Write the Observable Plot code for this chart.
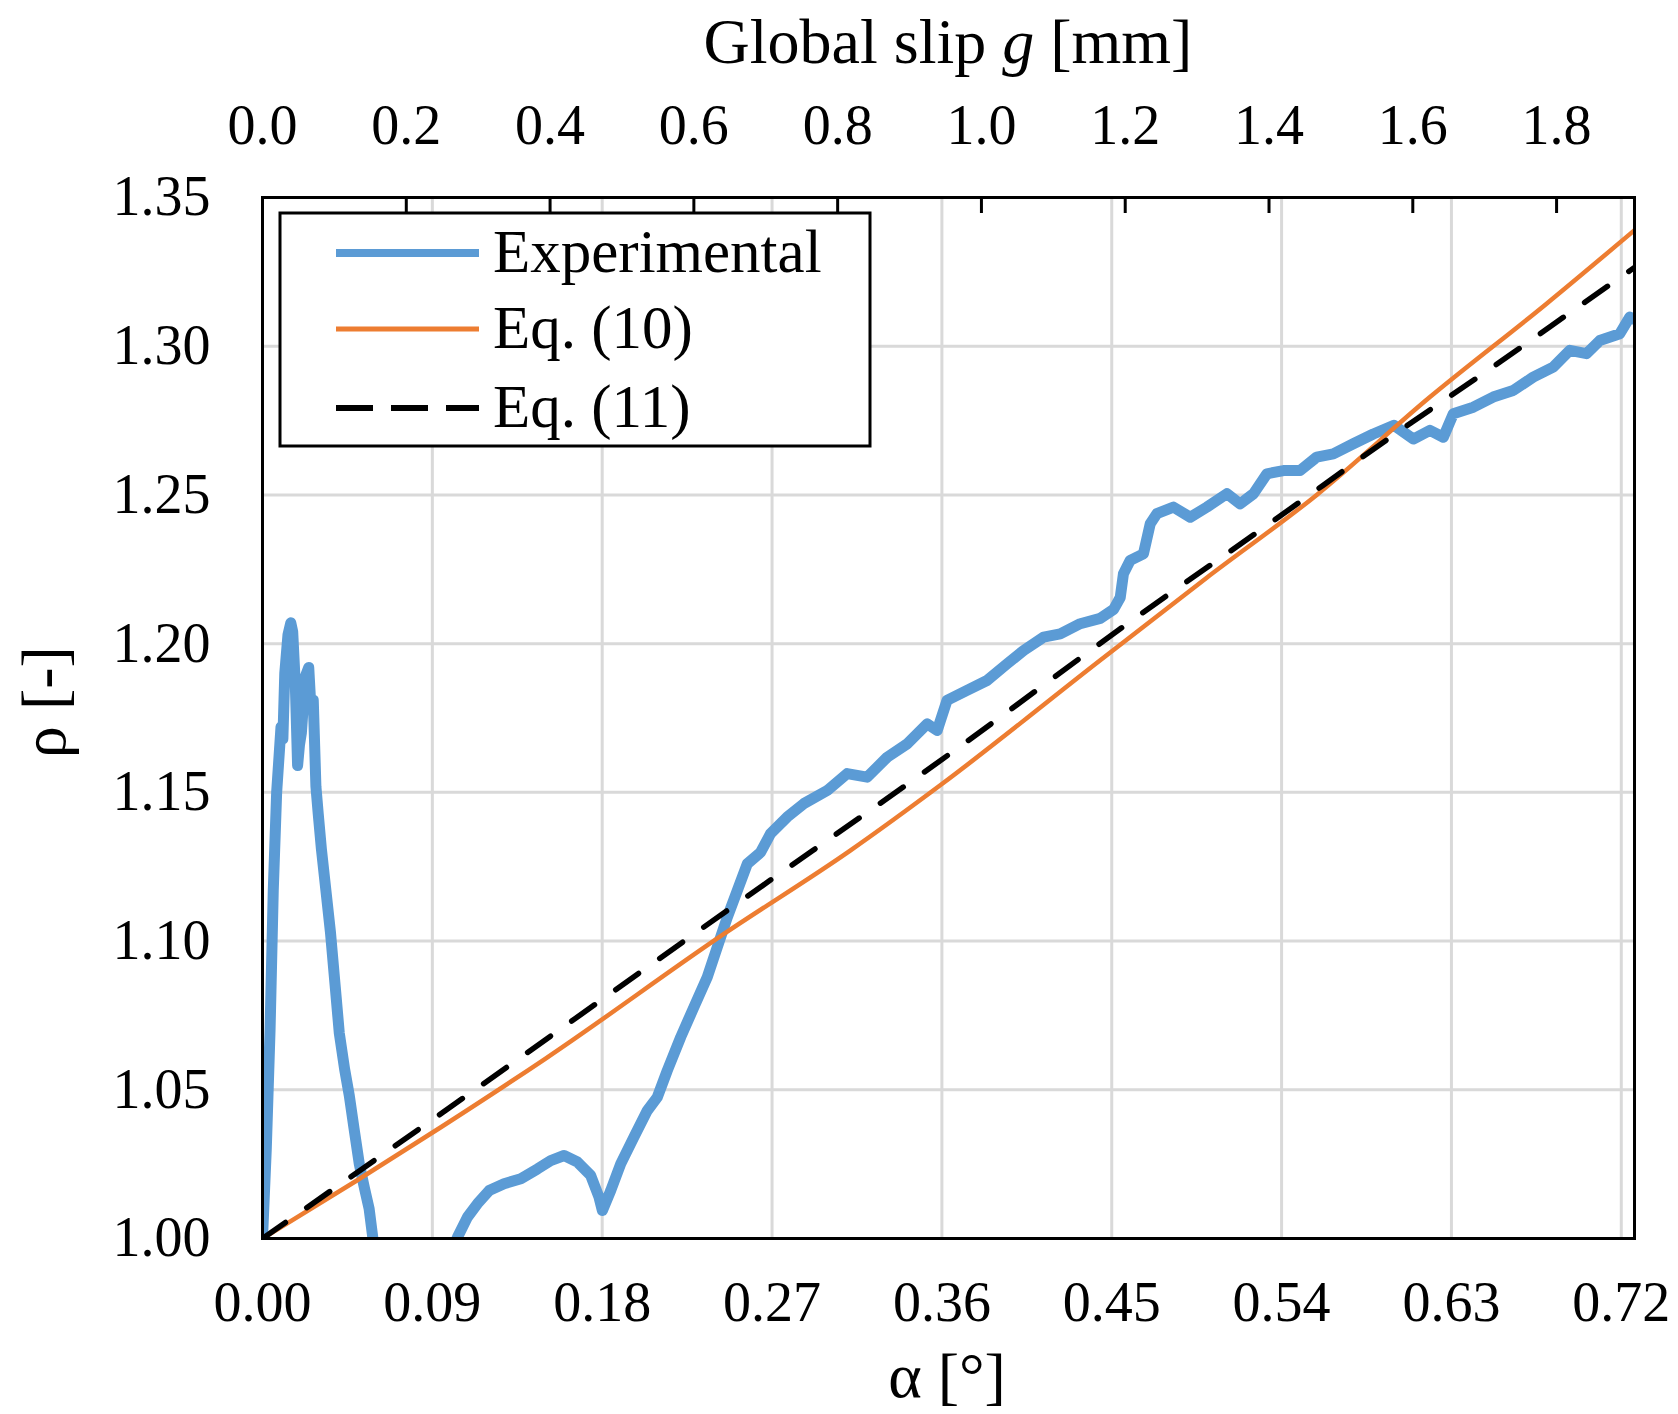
<!DOCTYPE html>
<html><head><meta charset="utf-8">
<script src="https://cdn.jsdelivr.net/npm/d3@7"></script>
<script src="https://cdn.jsdelivr.net/npm/@observablehq/plot@0.6"></script>
<style>
html,body{margin:0;padding:0;background:#fff;}
#chart svg{display:block;}
</style>
</head><body><div id="chart"></div>
<script>
// ---- tick values ----
const alphaTicks = [0.00, 0.09, 0.18, 0.27, 0.36, 0.45, 0.54, 0.63, 0.72];
const rhoTicks = [1.00, 1.05, 1.10, 1.15, 1.20, 1.25, 1.30, 1.35];
const slipTicks = [0.0, 0.2, 0.4, 0.6, 0.8, 1.0, 1.2, 1.4, 1.6, 1.8];
const mmPerDeg = 2.625; // global slip g [mm] per degree of alpha (top axis)

// ---- series: [alpha (deg), rho (-)] ----
const experimentalPart1 = [
  [0.0000,1.000],[0.0020,1.030],[0.0040,1.070],[0.0057,1.117],[0.0075,1.150],
  [0.0098,1.172],[0.0108,1.168],[0.0118,1.190],[0.0135,1.203],[0.0150,1.207],
  [0.0160,1.204],[0.0174,1.186],[0.0186,1.159],[0.0196,1.166],[0.0206,1.170],
  [0.0227,1.189],[0.0245,1.192],[0.0257,1.178],[0.0269,1.181],[0.0283,1.152],
  [0.0295,1.143],[0.0312,1.131],[0.0336,1.117],[0.0360,1.103],[0.0385,1.085],
  [0.0407,1.069],[0.0435,1.057],[0.0460,1.048],[0.0485,1.037],[0.0513,1.025],
  [0.0540,1.017],[0.0565,1.010],[0.0587,0.999],[0.0600,0.992]
];
const experimentalPart2 = [
  [0.0990,0.994],[0.1033,1.0004],[0.1086,1.0072],[0.1139,1.0117],[0.1201,1.0161],
  [0.1280,1.0184],[0.1369,1.0201],[0.1457,1.0234],[0.1527,1.0262],[0.1598,1.0279],
  [0.1669,1.0257],[0.1739,1.0212],[0.1783,1.0139],[0.1801,1.0094],[0.1845,1.0161],
  [0.1898,1.0251],[0.1968,1.0341],[0.2039,1.0430],[0.2092,1.0475],[0.2145,1.0565],
  [0.2216,1.0677],[0.2286,1.0778],[0.2357,1.0879],[0.2410,1.0980],[0.2463,1.1080],
  [0.2516,1.1170],[0.2569,1.1260],[0.2639,1.1298],[0.2692,1.1361],[0.2780,1.1417],
  [0.2868,1.1462],[0.2992,1.1506],[0.3098,1.1563],[0.3204,1.1551],[0.3310,1.1618],
  [0.3416,1.1663],[0.3522,1.1730],[0.3575,1.1708],[0.3627,1.1809],[0.3733,1.1843],
  [0.3839,1.1876],[0.3945,1.1932],[0.4033,1.1977],[0.4139,1.2022],[0.4227,1.2033],
  [0.4333,1.2067],[0.4439,1.2085],[0.4510,1.2115],[0.4545,1.2155],[0.4562,1.2235],
  [0.4598,1.2280],[0.4668,1.2302],[0.4704,1.2403],[0.4739,1.2437],[0.4827,1.2459],
  [0.4916,1.2425],[0.5004,1.2459],[0.5110,1.2504],[0.5180,1.2470],[0.5251,1.2504],
  [0.5322,1.2571],[0.5410,1.2582],[0.5498,1.2582],[0.5586,1.2627],[0.5674,1.2638],
  [0.5780,1.2672],[0.5886,1.2705],[0.5995,1.2734],[0.6098,1.2688],[0.6186,1.2717],
  [0.6257,1.2694],[0.6310,1.2773],[0.6416,1.2795],[0.6521,1.2829],[0.6627,1.2851],
  [0.6733,1.2896],[0.6839,1.2930],[0.6927,1.2986],[0.7016,1.2975],[0.7086,1.3019],
  [0.7192,1.3042],[0.7245,1.3098],[0.7270,1.3090]
];
const eq10 = [
  [0.000,1.0000],[0.050,1.0195],[0.0945,1.0374],[0.150,1.0605],[0.2445,1.1024],
  [0.3116,1.1305],[0.360,1.1528],[0.4439,1.1944],[0.500,1.2220],[0.5586,1.2500],
  [0.6186,1.2829],[0.6804,1.3143],[0.727,1.3390]
];
const eq11 = [
  [0.000,1.0000],[0.1007,1.0447],[0.2463,1.1103],[0.3654,1.1635],[0.4607,1.2078],
  [0.533,1.2401],[0.6049,1.2726],[0.653,1.2935],[0.7007,1.3148],[0.727,1.3265]
];
const legendLabels = ["Experimental", "Eq. (10)", "Eq. (11)"];

// ---- styling ----
const W = 1678, H = 1414;
const mL = 262, mR = 44, mT = 197, mB = 176;
const FONT = '"Liberation Serif","Times New Roman",serif';
const BLUE = "#5b9bd5", ORANGE = "#ed7d31", GRID = "#d9d9d9";
const tickFont = 56;

const expRows = [
  ...experimentalPart1.map(([a, r]) => ({a, r, seg: 1})),
  ...experimentalPart2.map(([a, r]) => ({a, r, seg: 2}))
];

const chart = Plot.plot({
  width: W, height: H,
  marginLeft: mL, marginRight: mR, marginTop: mT, marginBottom: mB,
  style: {fontFamily: FONT, background: "white", color: "black", overflow: "visible"},
  x: {domain: [0, 0.727], axis: null},
  y: {domain: [1, 1.35], axis: null},
  marks: [
    Plot.ruleX(alphaTicks.slice(1), {x: d => d, stroke: GRID, strokeWidth: 3}),
    Plot.ruleY(rhoTicks.slice(1, -1), {y: d => d, stroke: GRID, strokeWidth: 3}),
    Plot.line(expRows, {x: "a", y: "r", z: "seg", stroke: BLUE, strokeWidth: 11,
      strokeLinejoin: "round", strokeLinecap: "round", clip: true}),
    Plot.line(eq10, {x: d => d[0], y: d => d[1], stroke: ORANGE, strokeWidth: 4.5,
      curve: "monotone-x", clip: true}),
    Plot.line(eq11, {x: d => d[0], y: d => d[1], stroke: "black", strokeWidth: 5.5,
      strokeDasharray: "28,26", curve: "monotone-x", clip: true}),
    // inward ticks of the top (global slip) axis
    Plot.ruleX(slipTicks.slice(1), {x: g => g / mmPerDeg, stroke: "black", strokeWidth: 3,
      insetBottom: (H - mT - mB) - 16}),
    Plot.frame({stroke: "black", strokeWidth: 3}),
    // tick labels
    Plot.text(alphaTicks, {x: d => d, text: d => d.toFixed(2), frameAnchor: "bottom",
      lineAnchor: "middle", dy: 65, fontSize: tickFont, fill: "black"}),
    Plot.text(slipTicks, {x: g => g / mmPerDeg, text: g => g.toFixed(1), frameAnchor: "top",
      lineAnchor: "middle", dy: -71, fontSize: tickFont, fill: "black"}),
    Plot.text(rhoTicks, {y: d => d, text: d => d.toFixed(2), frameAnchor: "left",
      textAnchor: "end", lineAnchor: "middle", dx: -52, fontSize: tickFont, fill: "black"})
  ]
});
document.getElementById("chart").appendChild(chart);

// ---- axis titles and legend (pixel layout) ----
const svgSel = d3.select(chart);
const titles = svgSel.append("g").attr("font-family", FONT).attr("fill", "black").attr("font-size", 64);
const topTitle = titles.append("text").attr("x", 948).attr("y", 63).attr("text-anchor", "middle");
topTitle.append("tspan").text("Global slip ");
topTitle.append("tspan").attr("font-style", "italic").text("g");
topTitle.append("tspan").text(" [mm]");
titles.append("text").attr("x", 947).attr("y", 1397).attr("text-anchor", "middle").text("α [°]");
titles.append("text").attr("transform", "translate(65,702) rotate(-90)")
  .attr("text-anchor", "middle").text("ρ [-]");

const lg = svgSel.append("g").attr("font-family", FONT);
lg.append("rect").attr("x", 280).attr("y", 213).attr("width", 590).attr("height", 233)
  .attr("fill", "white").attr("stroke", "black").attr("stroke-width", 3);
const legendStyles = [
  {color: BLUE, w: 8, dash: null},
  {color: ORANGE, w: 5, dash: null},
  {color: "black", w: 6, dash: "37,18"}
];
const legendY = [253, 329, 408];
legendLabels.forEach((lab, i) => {
  const s = legendStyles[i];
  const ln = lg.append("line").attr("x1", 336).attr("x2", 479)
    .attr("y1", legendY[i]).attr("y2", legendY[i])
    .attr("stroke", s.color).attr("stroke-width", s.w);
  if (s.dash) ln.attr("stroke-dasharray", s.dash);
  lg.append("text").attr("x", 493).attr("y", legendY[i] + 19).attr("font-size", 61)
    .attr("text-anchor", "start").attr("fill", "black").text(lab);
});
</script>
</body></html>
